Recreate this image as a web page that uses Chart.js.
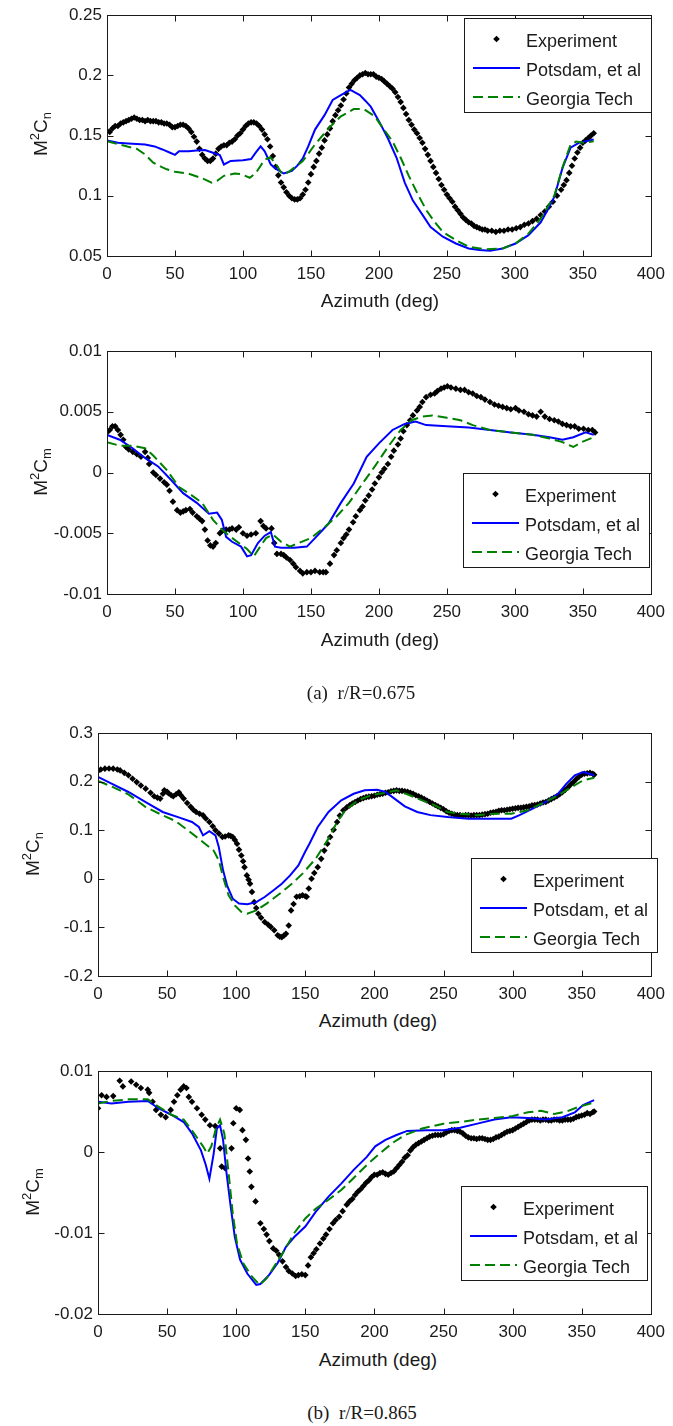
<!DOCTYPE html>
<html><head><meta charset="utf-8">
<script src="https://cdn.jsdelivr.net/npm/chart.js@4.4.0/dist/chart.umd.min.js"></script>
<style>
html,body{margin:0;padding:0;background:#fff;}
body{width:673px;height:1426px;position:relative;overflow:hidden;font-family:"Liberation Sans",Arial,sans-serif;color:#1a1a1a;}
canvas{position:absolute;left:0;}
.yt{position:absolute;font-size:19px;transform:translate(-50%,-50%) rotate(-90deg);white-space:nowrap;line-height:1;}
.xt{position:absolute;font-size:19px;transform:translate(-50%,-50%);white-space:nowrap;line-height:1;}
.cap{position:absolute;font-family:"Liberation Serif","Times New Roman",serif;font-size:19px;transform:translate(-50%,-50%);white-space:pre;line-height:1;}
sup,sub{font-size:68%;line-height:0;}
</style></head><body>
<canvas id="c1" width="673" height="290" style="top:0px"></canvas>
<canvas id="c2" width="673" height="310" style="top:320px"></canvas>
<canvas id="c3" width="673" height="300" style="top:705px"></canvas>
<canvas id="c4" width="673" height="300" style="top:1045px"></canvas>

<div class="yt" style="left:40px;top:134px">M<sup>2</sup>C<sub>n</sub></div>
<div class="yt" style="left:40px;top:472px">M<sup>2</sup>C<sub>m</sub></div>
<div class="yt" style="left:32px;top:854px">M<sup>2</sup>C<sub>n</sub></div>
<div class="yt" style="left:32px;top:1192px">M<sup>2</sup>C<sub>m</sub></div>
<div class="xt" style="left:380px;top:300px">Azimuth (deg)</div>
<div class="xt" style="left:380px;top:639px">Azimuth (deg)</div>
<div class="xt" style="left:378px;top:1020px">Azimuth (deg)</div>
<div class="xt" style="left:378px;top:1359px">Azimuth (deg)</div>
<div class="cap" style="left:361px;top:692px">(a)  r/R=0.675</div>
<div class="cap" style="left:362px;top:1412px">(b)  r/R=0.865</div>

<script>
const SERIES_NAMES=['Experiment','Potsdam, et al','Georgia Tech'];
const X_TICKS=[0,50,100,150,200,250,300,350,400];
const X_TICK_LABELS=['0','50','100','150','200','250','300','350','400'];

const P1_Y_TICKS=[0.05,0.1,0.15,0.2,0.25];
const P1_Y_TICK_LABELS=['0.05','0.1','0.15','0.2','0.25'];
const P2_Y_TICKS=[-0.01,-0.005,0,0.005,0.01];
const P2_Y_TICK_LABELS=['-0.01','-0.005','0','0.005','0.01'];
const P3_Y_TICKS=[-0.2,-0.1,0,0.1,0.2,0.3];
const P3_Y_TICK_LABELS=['-0.2','-0.1','0','0.1','0.2','0.3'];
const P4_Y_TICKS=[-0.02,-0.01,0,0.01];
const P4_Y_TICK_LABELS=['-0.02','-0.01','0','0.01'];

// ---- (a) r/R=0.675, M2Cn ----
const P1_EXP_AZ=[0,2,4,6,8,10,12,14,16,18,20,22,24,26,28,30,32,34,36,38,40,42,44,46,48,50,52,54,56,58,60,62,64,66,68,70,72,74,76,78,80,82,84,86,88,90,92,94,96,98,100,102,104,106,108,110,112,114,116,118,120,122,124,126,128,130,132,134,136,138,140,142,144,146,148,150,152,154,156,158,160,162,164,166,168,170,172,174,176,178,180,182,184,186,188,190,192,194,196,198,200,202,204,206,208,210,212,214,216,218,220,222,224,226,228,230,232,234,236,238,240,242,244,246,248,250,252,254,256,258,260,262,264,266,268,270,272,274,276,278,280,283,286,289,292,295,298,301,304,307,310,313,316,319,322,325,328,331,334,336,338,340,342,344,346,348,350,352,354,356,358];
const P1_EXP_VAL=[0.154,0.153,0.156,0.158,0.158,0.160,0.161,0.162,0.163,0.164,0.165,0.164,0.163,0.163,0.162,0.163,0.162,0.162,0.162,0.161,0.161,0.160,0.160,0.159,0.157,0.157,0.158,0.159,0.159,0.158,0.156,0.153,0.149,0.145,0.139,0.134,0.131,0.129,0.129,0.131,0.135,0.139,0.141,0.142,0.142,0.144,0.145,0.147,0.150,0.152,0.155,0.158,0.160,0.161,0.161,0.160,0.158,0.155,0.151,0.147,0.141,0.133,0.124,0.117,0.111,0.107,0.103,0.100,0.098,0.097,0.097,0.098,0.101,0.105,0.111,0.118,0.124,0.129,0.135,0.140,0.146,0.151,0.156,0.162,0.167,0.171,0.175,0.180,0.185,0.190,0.193,0.196,0.198,0.200,0.201,0.202,0.201,0.201,0.201,0.199,0.198,0.197,0.195,0.193,0.191,0.189,0.186,0.182,0.178,0.173,0.168,0.163,0.159,0.155,0.152,0.148,0.144,0.139,0.134,0.129,0.124,0.119,0.114,0.109,0.105,0.101,0.098,0.095,0.091,0.088,0.085,0.082,0.080,0.078,0.077,0.075,0.074,0.073,0.072,0.072,0.071,0.071,0.070,0.071,0.071,0.072,0.072,0.073,0.074,0.076,0.077,0.079,0.081,0.084,0.087,0.091,0.095,0.100,0.105,0.109,0.113,0.119,0.125,0.131,0.136,0.140,0.144,0.146,0.148,0.150,0.152];
const P1_POT_AZ=[0,8,15.6,28,35,40.7,46,50,53,60,66,72,78,83,86,91,100,106,109.5,113,116,120.5,125,130,136,140,144,148,153,160,166,172,179,186,190,194,200,206.5,213,219,225,231.6,238,247,256.6,266,274,281.7,291,300.5,310,319,325,329,335,341,347,358];
const P1_POT_VAL=[0.146,0.144,0.1434,0.1426,0.141,0.1385,0.136,0.134,0.137,0.137,0.1377,0.138,0.1357,0.1338,0.126,0.129,0.1295,0.1305,0.136,0.141,0.137,0.126,0.122,0.1185,0.1207,0.125,0.131,0.141,0.155,0.167,0.1796,0.1837,0.188,0.1837,0.179,0.174,0.162,0.148,0.1316,0.111,0.096,0.085,0.074,0.066,0.0604,0.0563,0.055,0.0544,0.0563,0.0604,0.0673,0.078,0.090,0.099,0.123,0.140,0.144,0.1467];
const P1_GT_AZ=[0,8,15.6,22,28,34,40,44,50,59.5,69,77,81,86,94,98.6,105,109.5,113,116,120,124,128,131,134.6,144,153,163,172,181.5,189,197,203,210,216,222,228.5,235,241,247,256.6,266,278.6,291,300.5,310,319,329,335,341,345,350.5,358];
const P1_GT_VAL=[0.1453,0.143,0.1407,0.139,0.1344,0.1275,0.124,0.122,0.120,0.1185,0.115,0.111,0.1125,0.1166,0.1185,0.118,0.115,0.119,0.125,0.130,0.132,0.127,0.1193,0.118,0.1207,0.1288,0.1426,0.156,0.166,0.172,0.172,0.166,0.156,0.1453,0.1316,0.1166,0.1015,0.0878,0.0782,0.070,0.0632,0.0577,0.0555,0.0563,0.0604,0.0686,0.081,0.100,0.1234,0.1426,0.145,0.144,0.1453];

// ---- (a) r/R=0.675, M2Cm ----
const P2_EXP_AZ=[0,2,4,6,8,10,12,14,16,19,22,25,28,30,31,34,36,39,42,44,46,48.5,51.6,54,56,58,61,63,66,68,70,72,74,76,78,80,83,85,87.6,90,92,95,97,100,103,106,109.5,113,115,117,121,123,125,128,130,132,134.6,137,139,142,144,147,150,153,156.5,159,161,164,167,169,172,174,176,178,181,183,186,188,190,192.5,195,197,200,202,204,206.6,209,211,214,216,218,220.6,223,225,228,230,232,234.7,238,241,243,245.7,248,250.4,253,256.6,260,263,266,269,272,275,278,281.7,285,288,291,294,297,300.5,303,306.7,310,313,316,319,322,325.5,329,332,335,338,341,344,347,350.5,354,357,359];
const P2_EXP_VAL=[0.0033,0.0035,0.0038,0.0038,0.0035,0.0031,0.0027,0.0021,0.0019,0.0017,0.0015,0.0013,0.0017,0.0012,0.0007,0.0000,-0.0002,-0.0005,-0.0008,-0.0010,-0.0015,-0.0024,-0.0031,-0.0033,-0.0032,-0.0031,-0.0030,-0.0033,-0.0036,-0.0038,-0.0040,-0.0047,-0.0056,-0.0060,-0.0061,-0.0058,-0.0050,-0.0048,-0.0047,-0.0047,-0.0046,-0.0047,-0.0045,-0.0050,-0.0052,-0.0051,-0.0050,-0.0040,-0.0044,-0.0046,-0.0046,-0.0058,-0.0067,-0.0067,-0.0068,-0.0070,-0.0072,-0.0075,-0.0078,-0.0081,-0.0083,-0.0082,-0.0082,-0.0081,-0.0082,-0.0082,-0.0082,-0.0075,-0.0068,-0.0064,-0.0058,-0.0054,-0.0051,-0.0047,-0.0041,-0.0036,-0.0031,-0.0028,-0.0023,-0.0019,-0.0014,-0.0009,-0.0004,0.0000,0.0003,0.0007,0.0013,0.0018,0.0023,0.0028,0.0034,0.0039,0.0043,0.0047,0.0051,0.0054,0.0058,0.0062,0.0064,0.0065,0.0067,0.0069,0.0070,0.0071,0.0070,0.0069,0.0068,0.0068,0.0066,0.0065,0.0063,0.0062,0.0060,0.0058,0.0056,0.0055,0.0054,0.0053,0.0052,0.0053,0.0051,0.0050,0.0048,0.0047,0.0046,0.0050,0.0046,0.0044,0.0043,0.0042,0.0040,0.0039,0.0038,0.0038,0.0036,0.0036,0.0035,0.0035,0.0033];
const P2_POT_AZ=[0,9.4,18.8,28,37.6,47,56,66,75,81,84.5,87.6,92,98.6,103,106,111,116,120.5,123.6,128,137.7,147,153,163,172,181.5,191,200,210,219,227,234.7,250,266,281.7,297,313,325.5,335,343,352,358];
const P2_POT_VAL=[0.0031,0.0027,0.0020,0.0012,0.0005,-0.0006,-0.0017,-0.0025,-0.0034,-0.0033,-0.0039,-0.0053,-0.0057,-0.0061,-0.0069,-0.0068,-0.0058,-0.0052,-0.0049,-0.0061,-0.0062,-0.0062,-0.0061,-0.0054,-0.0042,-0.0025,-0.0009,0.0013,0.0024,0.0035,0.0040,0.0042,0.0039,0.0038,0.0037,0.0035,0.0033,0.0031,0.0029,0.0027,0.0029,0.0033,0.0031];
const P2_GT_AZ=[0,9.4,18.8,28,34,44,53,62.6,70,78,84.5,91,97,103,108,112.7,117,122,128,134.6,141,150,160,169,178,188,197,206.6,216,224,232,239.4,250,260,269,281.7,297,313,325.5,335,343,349,358];
const P2_GT_VAL=[0.0025,0.0022,0.0022,0.0020,0.0014,0.0002,-0.0012,-0.0019,-0.0025,-0.0039,-0.0047,-0.0053,-0.0058,-0.0063,-0.0069,-0.0061,-0.0054,-0.0051,-0.0057,-0.0061,-0.0058,-0.0054,-0.0045,-0.0036,-0.0025,-0.0009,0.0005,0.0021,0.0035,0.0043,0.0046,0.0047,0.0045,0.0043,0.0039,0.0035,0.0033,0.0031,0.0028,0.0025,0.0021,0.0025,0.0029];

// ---- (b) r/R=0.865, M2Cn ----
const P3_EXP_AZ=[0,2,5,8,11,14,16,19,22,25,28,31,34.5,38,40.6,43,45,47,48,50,51,53,54.5,56.5,58.5,60,62,64.5,67,69,71,73.5,76,78,80.6,83,85,87.5,90,92,94.5,96,97.5,99,100.6,102,103.7,105,106,107.7,109,110,111.4,113,114.5,116,118,120.6,123,125,127.5,130,131.5,133,134.5,136,138,139.7,141.5,143.7,146,148,150,151,152.5,154.5,156.5,159,161.5,163.7,166,168,170.5,173,175,177.5,180,182,184,186,188,190,192,194,196,198,200,202,204,206,208,210,212,214,216,218,220,222,224,226,228,230,232,234,236,238,240,242,244,246,248,250,252,254,256,258,260,262,264,266,268,270,272,274,276,278,280,282,284,286,288,290,292,294,296,298,300,302,304,306,308,310,312,314,316,318,320,322,324,326,328,330,332,334,336,338,340,342,344,346,348,350,352,354,356,358,359];
const P3_EXP_VAL=[0.222,0.225,0.2266,0.227,0.2266,0.225,0.223,0.218,0.213,0.206,0.199,0.192,0.1855,0.177,0.170,0.167,0.165,0.175,0.182,0.179,0.176,0.172,0.170,0.174,0.178,0.172,0.165,0.156,0.148,0.142,0.1375,0.134,0.1306,0.124,0.117,0.108,0.100,0.093,0.086,0.087,0.0894,0.088,0.086,0.080,0.072,0.060,0.048,0.036,0.024,0.007,-0.002,-0.010,-0.027,-0.048,-0.060,-0.072,-0.080,-0.089,-0.094,-0.099,-0.106,-0.116,-0.119,-0.120,-0.117,-0.113,-0.096,-0.065,-0.052,-0.037,-0.036,-0.034,-0.036,-0.037,-0.020,0.000,0.012,0.024,0.041,0.058,0.072,0.086,0.101,0.117,0.130,0.141,0.147,0.151,0.155,0.158,0.161,0.164,0.166,0.168,0.169,0.170,0.171,0.173,0.174,0.175,0.177,0.178,0.180,0.181,0.182,0.181,0.181,0.180,0.179,0.177,0.175,0.172,0.170,0.167,0.164,0.161,0.158,0.155,0.152,0.149,0.146,0.143,0.139,0.136,0.134,0.132,0.131,0.131,0.130,0.131,0.131,0.130,0.131,0.131,0.131,0.132,0.133,0.134,0.136,0.137,0.138,0.140,0.141,0.141,0.142,0.143,0.144,0.145,0.146,0.146,0.147,0.148,0.149,0.151,0.152,0.153,0.155,0.157,0.158,0.161,0.164,0.167,0.170,0.174,0.178,0.183,0.188,0.194,0.199,0.205,0.210,0.214,0.216,0.217,0.218,0.216,0.214];
const P3_POT_AZ=[0,9.8,22,34.5,46.8,59,68,73,76,80.6,85,87.4,90.5,93.5,97.5,102,108,114.5,120.6,126.8,133,139,145,149.8,153,159,166.8,176,185,193,202,208,214.5,222,231,240.6,253,268,283.7,299,305,314.5,323.7,333,339,345,351,359];
const P3_POT_VAL=[0.2095,0.1958,0.1786,0.158,0.1375,0.1258,0.117,0.1066,0.0894,0.098,0.0894,0.0654,0.0174,-0.0146,-0.041,-0.051,-0.0525,-0.048,-0.0375,-0.024,-0.010,0.007,0.0277,0.055,0.072,0.1066,0.1375,0.1615,0.175,0.182,0.1834,0.1786,0.165,0.149,0.1375,0.131,0.127,0.1237,0.1237,0.1237,0.131,0.1443,0.158,0.175,0.1958,0.213,0.2197,0.213];
const P3_GT_AZ=[0,9.8,22,34.5,46.8,56,65,74.5,83.7,87.4,90.5,94.5,99,103.7,108,114.5,122,130,139,148,157.5,166.8,173,179,188,197.5,207,216,225.5,234.5,243.7,253,262,274.5,286.8,299,311,323.7,333,342,351,359];
const P3_GT_VAL=[0.2012,0.190,0.1738,0.1477,0.1306,0.119,0.100,0.079,0.058,0.038,0.0037,-0.034,-0.0546,-0.068,-0.0717,-0.065,-0.051,-0.034,-0.0134,0.0106,0.0414,0.0826,0.117,0.141,0.1615,0.172,0.1766,0.182,0.172,0.1615,0.151,0.1375,0.134,0.1306,0.134,0.134,0.141,0.158,0.172,0.1875,0.2026,0.208];

// ---- (b) r/R=0.865, M2Cm ----
const P4_EXP_AZ=[0,2.6,6.2,11,15.7,18,24,27.6,31,36,37,39.5,42,45.5,49,52.6,55,57.4,59.8,62,64,65.7,68,71.6,75,77.6,81,84.8,88.4,89.5,92,96.6,97.9,100,102.6,104.5,107,108.6,109.8,111,114,117.5,120,122,124,126.8,129,131,133.5,136,138,140.6,143,145,147.5,150,152,154,156,158,160.6,163,165,167.5,170,172,174.5,177,180,182,184,186,188,190,192,194,196,198,200,202,204,206,208,210,212,214,216,218,220,222,224,226,228,230,232,234,236,238,240,242,244,246,248,250,252,254,256,258,260,262,264,266,268,270,272,274,276,278,280,282,284,286,288,290,292,294,296,298,300,302,304,306,308,310,312,314,316,318,320,322,324,326,328,330,332,334,336,338,340,342,344,346,348,350,352,354,356,358,359];
const P4_EXP_VAL=[0.0054,0.0070,0.0068,0.0069,0.0088,0.0081,0.0087,0.0083,0.0079,0.0077,0.0073,0.0062,0.0052,0.0046,0.0043,0.0052,0.0062,0.0070,0.0077,0.0081,0.0079,0.0068,0.0062,0.0054,0.0046,0.0040,0.0033,0.0032,0.00045,-0.0018,-0.0020,0.00045,0.00355,0.0054,0.0052,0.0027,0.0015,-0.0008,-0.0024,-0.0043,-0.0061,-0.0088,-0.0095,-0.0102,-0.0110,-0.0119,-0.0122,-0.0127,-0.0135,-0.0142,-0.0147,-0.0150,-0.0153,-0.0152,-0.0151,-0.0152,-0.0140,-0.0130,-0.0125,-0.0120,-0.0113,-0.0107,-0.0102,-0.0095,-0.0088,-0.0084,-0.0080,-0.0073,-0.0065,-0.0061,-0.0058,-0.0053,-0.0049,-0.0046,-0.0042,-0.0038,-0.0035,-0.0031,-0.0028,-0.0028,-0.0026,-0.0025,-0.0027,-0.0028,-0.0026,-0.0024,-0.0020,-0.0016,-0.0012,-0.0007,-0.0004,0.0002,0.0006,0.0009,0.0011,0.0013,0.0015,0.0017,0.0019,0.0020,0.0021,0.0021,0.0021,0.0022,0.0024,0.0026,0.0027,0.0027,0.0026,0.0025,0.0023,0.0020,0.0018,0.0017,0.0017,0.0016,0.0017,0.0017,0.0016,0.0015,0.0015,0.0016,0.0018,0.0019,0.0021,0.0023,0.0025,0.0026,0.0027,0.0029,0.0031,0.0033,0.0035,0.0037,0.0039,0.0040,0.0040,0.0040,0.0039,0.0040,0.0040,0.0039,0.0039,0.0040,0.0040,0.0039,0.0039,0.0040,0.0040,0.0040,0.0041,0.0043,0.0044,0.0045,0.0046,0.0048,0.0047,0.0049,0.0050];
const P4_POT_AZ=[0,9.8,22,36,43.7,53,62,68,74.5,78,80.6,83.7,86,88.3,90.5,93,96,99,102.8,108,114.5,117.5,123.7,130,136,142,150,157.5,166.8,176,185,194.5,200.6,208,216,223.7,237.5,250,262,274.5,286.8,299,311,323.7,336,345,351,359];
const P4_POT_VAL=[0.0062,0.0060,0.0062,0.0063,0.0054,0.0046,0.0037,0.0023,0.0002,-0.0016,-0.0033,-0.0002,0.0029,0.0033,0.0015,-0.0026,-0.0067,-0.0105,-0.0133,-0.0150,-0.0164,-0.0163,-0.0152,-0.0137,-0.0117,-0.0105,-0.0092,-0.0074,-0.0055,-0.0039,-0.0022,-0.0006,0.0007,0.0015,0.0021,0.0026,0.0027,0.0027,0.0030,0.0035,0.0040,0.0043,0.0042,0.0040,0.0043,0.0049,0.0058,0.0064];
const P4_GT_AZ=[0,9.8,22,36,43.7,53,62,69.5,76,79,82,85,88.3,91.4,94.5,97.5,100.6,105,111.4,117,122,128,135,142,150,157.5,166.8,176,185,194.5,203.7,213,222,234.5,250,262,274.5,286.8,299,311,320.6,330,339,348,359];
const P4_GT_VAL=[0.0060,0.0063,0.0065,0.0065,0.0056,0.0046,0.0040,0.0023,0.0007,-0.0002,0.0007,0.0027,0.0040,0.0023,-0.0026,-0.0076,-0.0113,-0.0137,-0.0154,-0.0164,-0.0156,-0.0140,-0.0121,-0.0100,-0.0082,-0.0070,-0.0059,-0.0047,-0.0032,-0.0016,-0.0002,0.0011,0.0021,0.0029,0.0035,0.0037,0.0040,0.0042,0.0044,0.0049,0.0051,0.0047,0.0050,0.0056,0.0061];

Chart.defaults.font.family='"Liberation Sans", Arial, sans-serif';
Chart.defaults.font.size=17;
Chart.defaults.color='#1a1a1a';

function pts(az,v){return az.map((a,i)=>({x:a,y:v[i]}));}
function labelFor(vals,labels,v){const i=vals.findIndex(t=>Math.abs(t-v)<1e-9);return i<0?'':labels[i];}

const boxPlugin={id:'boxTicks',afterDatasetsDraw(chart){
  const {ctx,chartArea:a,scales:{x,y}}=chart;
  ctx.save();ctx.strokeStyle='#1a1a1a';ctx.lineWidth=1;ctx.setLineDash([]);
  const l=Math.round(a.left)+0.5,r=Math.round(a.right)+0.5,t=Math.round(a.top)+0.5,b=Math.round(a.bottom)+0.5;
  ctx.strokeRect(l,t,r-l,b-t);
  const L=6;ctx.beginPath();
  x.ticks.forEach(k=>{const p=Math.round(x.getPixelForValue(k.value))+0.5;ctx.moveTo(p,b);ctx.lineTo(p,b-L);ctx.moveTo(p,t);ctx.lineTo(p,t+L);});
  y.ticks.forEach(k=>{const p=Math.round(y.getPixelForValue(k.value))+0.5;ctx.moveTo(l,p);ctx.lineTo(l+L,p);ctx.moveTo(r,p);ctx.lineTo(r-L,p);});
  ctx.stroke();ctx.restore();
}};

const legendPlugin={id:'inLegend',afterDraw(chart,args,o){
  const ctx=chart.ctx;ctx.save();
  ctx.fillStyle='#fff';ctx.fillRect(o.left,o.top,o.width,o.height);
  ctx.strokeStyle='#1a1a1a';ctx.lineWidth=1;ctx.setLineDash([]);
  ctx.strokeRect(o.left+0.5,o.top+0.5,o.width,o.height);
  const rows=[21,50,79];
  chart.data.datasets.forEach((ds,i)=>{
    const y=o.top+rows[i],x0=o.left+9,x1=o.left+56;
    if(ds.showLine){
      ctx.beginPath();ctx.setLineDash(ds.borderDash||[]);ctx.strokeStyle=ds.borderColor;ctx.lineWidth=ds.borderWidth;
      ctx.moveTo(x0,y);ctx.lineTo(x1,y);ctx.stroke();ctx.setLineDash([]);
    }else{
      const cx=(x0+x1)/2,rr=ds.pointRadius;
      ctx.beginPath();ctx.fillStyle=ds.pointBackgroundColor;
      ctx.moveTo(cx,y-rr);ctx.lineTo(cx+rr,y);ctx.lineTo(cx,y+rr);ctx.lineTo(cx-rr,y);ctx.closePath();ctx.fill();
    }
    ctx.fillStyle='#1a1a1a';ctx.font='18px "Liberation Sans", Arial, sans-serif';
    ctx.textBaseline='middle';ctx.textAlign='left';ctx.fillText(ds.label,o.left+62,y+3);
  });
  ctx.restore();
}};

function makeChart(id,d,L){
  const yMin=d.yTicks[0],yMax=d.yTicks[d.yTicks.length-1];
  new Chart(document.getElementById(id),{
    type:'scatter',
    data:{datasets:[
      {label:SERIES_NAMES[0],data:pts(d.expAz,d.expVal),showLine:false,pointStyle:'rectRot',pointRadius:3.3,pointBackgroundColor:'#000',pointBorderColor:'#000',pointBorderWidth:0,order:3},
      {label:SERIES_NAMES[1],data:pts(d.potAz,d.potVal),showLine:true,borderColor:'#0000ff',borderWidth:2,pointRadius:0,tension:0,fill:false,order:2},
      {label:SERIES_NAMES[2],data:pts(d.gtAz,d.gtVal),showLine:true,borderColor:'#008000',borderWidth:2,borderDash:[10,5],pointRadius:0,tension:0,fill:false,order:1}
    ]},
    options:{
      responsive:false,animation:false,events:[],devicePixelRatio:1,
      layout:{padding:{top:L.padTop,left:0,right:15,bottom:0}},
      plugins:{legend:{display:false},tooltip:{enabled:false},inLegend:L.legend},
      scales:{
        x:{type:'linear',min:0,max:400,grid:{display:false,drawTicks:false},border:{display:false},
          ticks:{padding:8,maxRotation:0,autoSkip:false,callback:v=>labelFor(X_TICKS,X_TICK_LABELS,v)},
          afterBuildTicks:s=>{s.ticks=X_TICKS.map(v=>({value:v}));},
          afterFit:s=>{s.height=L.xH;}},
        y:{type:'linear',min:yMin,max:yMax,grid:{display:false,drawTicks:false},border:{display:false},
          ticks:{padding:5,autoSkip:false,callback:v=>labelFor(d.yTicks,d.yLabels,v)},
          afterBuildTicks:s=>{s.ticks=d.yTicks.map(v=>({value:v}));},
          afterFit:s=>{s.width=L.left;}}
      }
    },
    plugins:[boxPlugin,legendPlugin]
  });
}

makeChart('c1',{expAz:P1_EXP_AZ,expVal:P1_EXP_VAL,potAz:P1_POT_AZ,potVal:P1_POT_VAL,gtAz:P1_GT_AZ,gtVal:P1_GT_VAL,yTicks:P1_Y_TICKS,yLabels:P1_Y_TICK_LABELS},
  {padTop:13,xH:34,left:107,legend:{left:464,top:18,width:187,height:94}});
makeChart('c2',{expAz:P2_EXP_AZ,expVal:P2_EXP_VAL,potAz:P2_POT_AZ,potVal:P2_POT_VAL,gtAz:P2_GT_AZ,gtVal:P2_GT_VAL,yTicks:P2_Y_TICKS,yLabels:P2_Y_TICK_LABELS},
  {padTop:31,xH:36,left:107,legend:{left:463,top:153,width:186,height:94}});
makeChart('c3',{expAz:P3_EXP_AZ,expVal:P3_EXP_VAL,potAz:P3_POT_AZ,potVal:P3_POT_VAL,gtAz:P3_GT_AZ,gtVal:P3_GT_VAL,yTicks:P3_Y_TICKS,yLabels:P3_Y_TICK_LABELS},
  {padTop:28,xH:29,left:98,legend:{left:471,top:153,width:186,height:94}});
makeChart('c4',{expAz:P4_EXP_AZ,expVal:P4_EXP_VAL,potAz:P4_POT_AZ,potVal:P4_POT_VAL,gtAz:P4_GT_AZ,gtVal:P4_GT_VAL,yTicks:P4_Y_TICKS,yLabels:P4_Y_TICK_LABELS},
  {padTop:26,xH:31,left:98,legend:{left:461,top:141,width:186,height:94}});
</script>
</body></html>
